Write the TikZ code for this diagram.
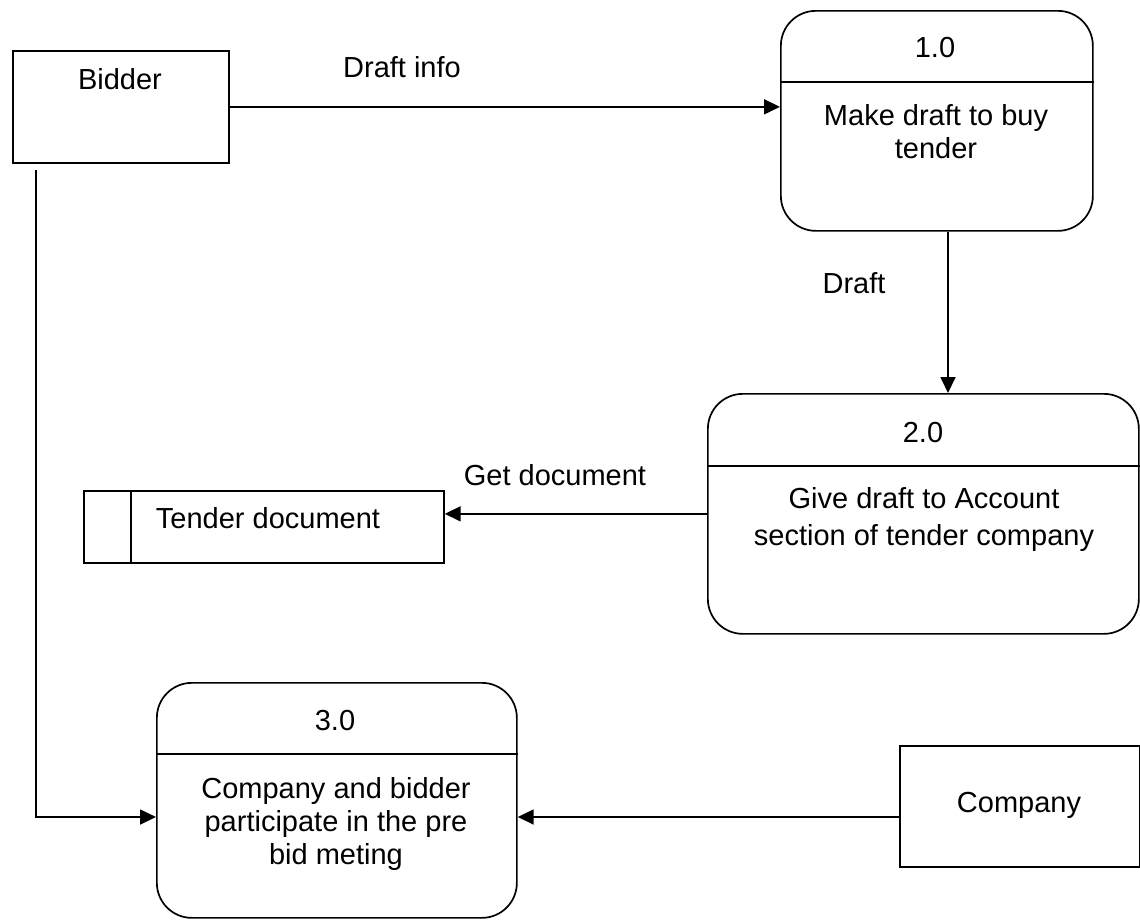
\documentclass[tikz,border=0pt]{standalone}
\usepackage{fontspec}
\setmainfont{Liberation Sans}
\usetikzlibrary{arrows.meta}
\begin{document}
\begin{tikzpicture}[x=1pt,y=-1pt,
  every node/.style={font=\fontsize{29}{33}\selectfont, inner sep=0pt},
  line/.style={line width=1.7pt},
  entity/.style={line, draw, rectangle, anchor=north west},
  proc/.style={line, draw, rounded corners=35pt, anchor=north west},
  flow/.style={line, -{Triangle[length=16pt,width=15pt]}},
  lbl/.style={anchor=base},
  body/.style={anchor=north, align=center}]
\useasboundingbox (0,0) rectangle (1140,919);

% external entities
\node[entity, minimum width=216pt, minimum height=112pt] (bidder) at (12,50) {};
\node[lbl] at (120,89) {Bidder};
\node[entity, minimum width=240pt, minimum height=121pt] (company) at (899,745) {};
\node[lbl] at (1019,812) {Company};

% data store
\node[entity, minimum width=360pt, minimum height=72pt] (store) at (83,490) {};
\draw[line] (131,490) -- (131,562);
\node[lbl] at (268,528) {Tender document};

% processes
\node[proc, minimum width=312pt, minimum height=220pt] (p1) at (780,10) {};
\draw[line] (p1.west |- 0,82) -- (p1.east |- 0,82);
\node[lbl] at (935,57) {1.0};
\node[body] at (936,104) {Make draft to buy\\tender};

\node[proc, minimum width=431pt, minimum height=240pt] (p2) at (707,393) {};
\draw[line] (p2.west |- 0,466) -- (p2.east |- 0,466);
\node[lbl] at (923,442) {2.0};
\node[body, font=\fontsize{29}{37}\selectfont] at (924,487) {Give draft to Account\\section of tender company};

\node[proc, minimum width=360pt, minimum height=235pt] (p3) at (156,682) {};
\draw[line] (p3.west |- 0,754) -- (p3.east |- 0,754);
\node[lbl] at (335,730) {3.0};
\node[body] at (336,777) {Company and bidder\\participate in the pre\\bid meting};

% data flows
\draw[flow] (bidder.east) -- (bidder.east -| p1.west);
\node[lbl] at (402,77) {Draft info};

\coordinate (drop) at (948,0);
\draw[flow] (p1.south -| drop) -- (p2.north -| drop);
\node[lbl] at (854,293) {Draft};

\draw[flow] (p2.west) -- (p2.west -| store.east);
\node[lbl] at (555,485) {Get document};

\coordinate (meet) at (0,817);
\coordinate (bidtap) at (36,170);
\draw[flow] (bidtap) |- (p3.west |- meet);
\draw[flow] (company.west |- meet) -- (p3.east |- meet);
\end{tikzpicture}
\end{document}
